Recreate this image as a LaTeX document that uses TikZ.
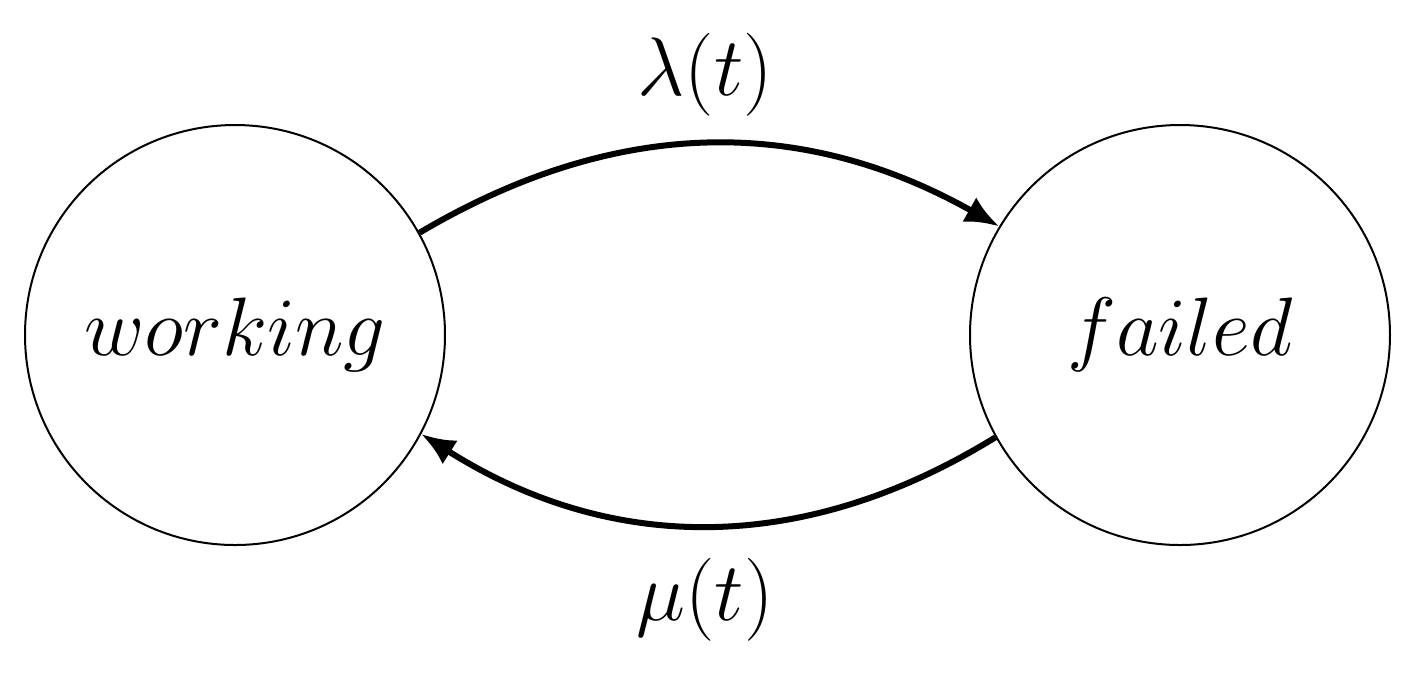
\documentclass[tikz,border=0pt]{standalone}
\usetikzlibrary{arrows.meta}
\begin{document}
\begin{tikzpicture}[x=0.25pt,y=-0.25pt,
  state/.style={circle,draw,line width=0.5pt,minimum size=105pt,inner sep=0pt},
  tr/.style={line width=1.5pt,-{Latex[length=8.5pt,width=7pt]}},
  lab/.style={font=\fontsize{20}{22}\selectfont}]
\useasboundingbox (0,0) rectangle (1416,679);
\node[state,lab] (w) at (235,335) {$working$};
\node[state,lab] (f) at (1180,335) {$failed$};
\draw[tr] (w.29) to[bend left=30] (f.149);
\draw[tr] (f.-151) to[bend left=32] (w.-28);
\node[lab] (l) at (705,75) {$\lambda(t)$};
\node[lab] (m) at (705,600) {$\mu(t)$};
\end{tikzpicture}
\end{document}
